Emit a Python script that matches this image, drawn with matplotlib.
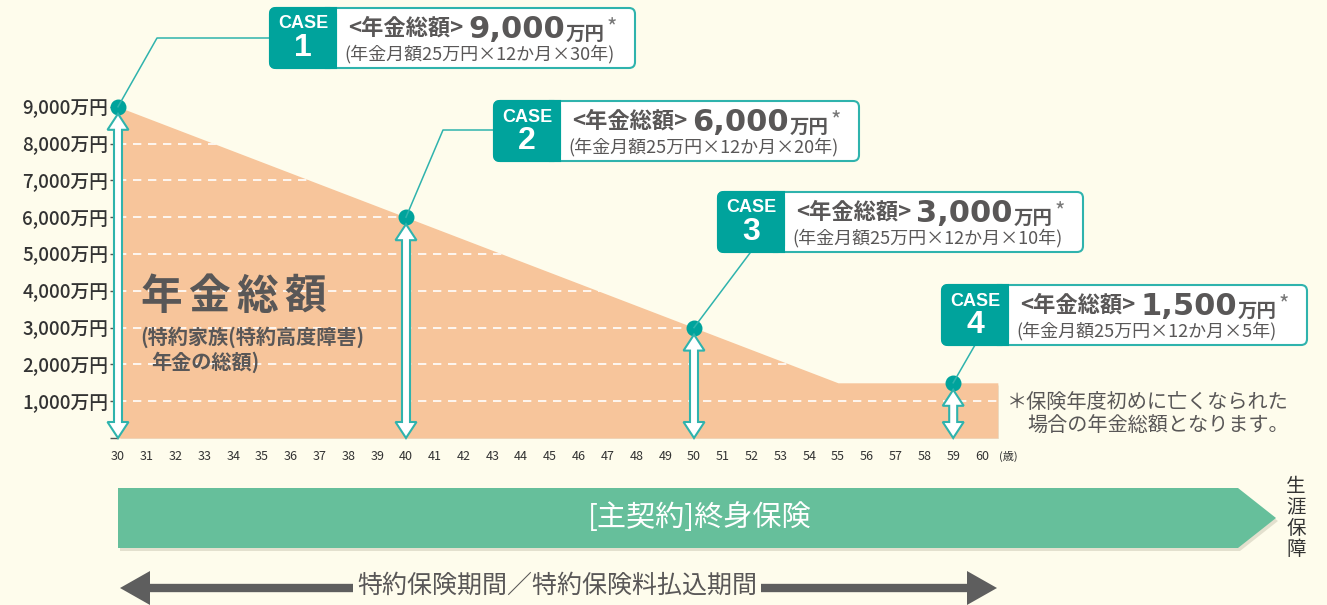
import matplotlib
matplotlib.use("Agg")
import matplotlib.pyplot as plt
from matplotlib.patches import Polygon, FancyBboxPatch, Rectangle
import numpy as np

plt.rcParams["font.family"] = ["Noto Sans CJK JP", "DejaVu Sans"]

# chart data
curve_age = [30, 55, 60.55]
curve_total = [9000, 1500, 1500]
case_no = [1, 2, 3, 4]
case_age = [30, 40, 50, 59]
case_total = [9000, 6000, 3000, 1500]
case_years = [30, 20, 10, 5]
age_ticks = list(range(30, 61))
money_ticks = list(range(0, 10000, 1000))

BG = "#FEFCEC"
ORANGE = "#F7C59B"
TEAL = "#00A39C"
TEAL_LINE = "#2FB3AD"
GREEN = "#66BF9B"
GRAY = "#595757"
DARK = "#333333"

W, H = 1327, 605
fig = plt.figure(figsize=(W / 100, H / 100), dpi=100, facecolor=BG)

# main chart axes (age vs total)
ax = fig.add_axes([118 / W, (H - 438) / H, 880 / W, 340 / H])
ax.set_facecolor("none")
ax.set_xlim(30, 30 + 880 / 28.8)
ax.set_ylim(0, 340 / 36.8 * 1000)
for s in ax.spines.values():
    s.set_visible(False)

ax.set_yticks(money_ticks)
ax.set_yticklabels([""] + [f"{v:,}万円" for v in money_ticks[1:]], fontsize=13.5,
                   color=DARK, fontweight="medium")
ax.tick_params(axis="y", length=6, width=1, color="#555555", pad=1)
ax.set_xticks(age_ticks)
ax.set_xticklabels([str(a) for a in age_ticks], fontsize=9, color=DARK)
ax.tick_params(axis="x", length=0, pad=9)

# shadow + area
ax.fill_between(np.array(curve_age) + 0.08, np.array(curve_total) - 60, -60,
                color="#d9d6c4", alpha=0.6, lw=0, zorder=1)
area = ax.fill_between(curve_age, curve_total, 0, color=ORANGE, lw=0, zorder=2)
poly_path = area.get_paths()[0]
hl = ax.hlines(money_ticks[1:-1], 30, curve_age[-1], colors="white",
               linestyles=(0, (5, 4)), lw=1.2, zorder=3)
hl.set_clip_path(poly_path, ax.transData)

ax.scatter(case_age, case_total, s=110, color=TEAL, zorder=6, clip_on=False)

# overlay in pixel coords
ov = fig.add_axes([0, 0, 1, 1], zorder=5)
ov.set_xlim(0, W)
ov.set_ylim(H, 0)
ov.axis("off")
ov.set_facecolor("none")


def to_px(x, y):
    dx, dy = ax.transData.transform((x, y))
    return dx, H - dy


# double arrows
for a, t in zip(case_age, case_total):
    cx, ty = to_px(a, t)
    _, by = to_px(a, 0)
    ty += 7
    hw, sw, hl_ = 10.5, 4, 16
    pts = [(cx, ty), (cx + hw, ty + hl_), (cx + sw, ty + hl_), (cx + sw, by - hl_),
           (cx + hw, by - hl_), (cx, by), (cx - hw, by - hl_), (cx - sw, by - hl_),
           (cx - sw, ty + hl_), (cx - hw, ty + hl_)]
    ov.add_patch(Polygon(pts, closed=True, fc="white", ec=TEAL_LINE, lw=1.5, zorder=2))

# case boxes
boxes = [(270, 8), (494, 101), (718, 192), (942, 285)]
elbows = [[(157, 38), (270, 38)], [(443, 130), (494, 130)], [(750, 253)], [(975, 345)]]
bw, bh, tw = 365, 60, 66
for n, a, t, yrs, (x0, y0), elb in zip(case_no, case_age, case_total, case_years, boxes, elbows):
    dx, dy = to_px(a, t)
    xs = [dx] + [p[0] for p in elb]
    ys = [dy] + [p[1] for p in elb]
    ov.plot(xs, ys, color=TEAL_LINE, lw=1.1, zorder=1)
    ov.add_patch(FancyBboxPatch((x0, y0), bw, bh, boxstyle="round,pad=0,rounding_size=6",
                                fc="white", ec=TEAL_LINE, lw=1.5, zorder=3))
    ov.add_patch(FancyBboxPatch((x0, y0), tw, bh, boxstyle="round,pad=0,rounding_size=6",
                                fc=TEAL, ec=TEAL, lw=1.5, zorder=3))
    ov.add_patch(Rectangle((x0 + tw - 10, y0), 10, bh, fc=TEAL, ec=TEAL, lw=1.5, zorder=3))
    ov.text(x0 + tw / 2, y0 + 16, "CASE", color="white", fontsize=13, fontweight="bold",
            family="Liberation Sans", ha="center", va="center", zorder=4)
    ov.text(x0 + tw / 2, y0 + 40, str(n), color="white", fontsize=23, fontweight="bold",
            family="Liberation Sans", ha="center", va="center", zorder=4)
    ov.text(x0 + 78, y0 + 20, "<年金総額>", color=GRAY, fontsize=16, fontweight="bold",
            ha="left", va="center", zorder=4)
    num = ov.text(x0 + 198, y0 + 30, f"{t:,}", color=GRAY, fontsize=22, fontweight="bold",
                  family="DejaVu Sans", ha="left", va="baseline", zorder=4)
    yen = ov.annotate("万円", xy=(1, 0), xycoords=num, xytext=(1, 0),
                      textcoords="offset points", color=GRAY, fontsize=14,
                      fontweight="bold", ha="left", va="bottom", zorder=4)
    ov.annotate("*", xy=(1, 1), xycoords=yen, xytext=(1, -2),
                textcoords="offset points", color="#777777", fontsize=16,
                ha="left", va="center", zorder=4)
    ov.text(x0 + 74, y0 + 46, f"(年金月額25万円×12か月×{yrs}年)", color=GRAY, fontsize=13,
            ha="left", va="center", zorder=4)

# big label
for i, ch in enumerate("年金総額"):
    ov.text(161 + i * 48, 297, ch, color=GRAY, fontsize=30, fontweight="bold",
            ha="center", va="center", zorder=3)
ov.text(140, 337, "(特約家族(特約高度障害)", color=GRAY, fontsize=14.5, fontweight="bold",
        ha="left", va="center", zorder=3)
ov.text(151, 362, "年金の総額)", color=GRAY, fontsize=14.5, fontweight="bold",
        ha="left", va="center", zorder=3)

# footnote
ov.text(1007, 402, "＊保険年度初めに亡くなられた", color=GRAY, fontsize=14.5,
        ha="left", va="center")
ov.text(1027, 426, "場合の年金総額となります。", color=GRAY, fontsize=14.5,
        ha="left", va="center")
ov.text(999, 456, "(歳)", color=DARK, fontsize=8, ha="left", va="center")

# main contract bar
bar = [(118, 488), (1238, 488), (1276, 518), (1238, 548), (118, 548)]
ov.add_patch(Polygon([(x + 2, y + 3) for x, y in bar], closed=True, fc="#d8d5c2",
                     ec="none", alpha=0.7, zorder=1))
ov.add_patch(Polygon(bar, closed=True, fc=GREEN, ec="none", zorder=2))
ov.text(700, 518, "[主契約]終身保険", color="white", fontsize=21, ha="center",
        va="center", zorder=3)
ov.text(1296, 518, "生\n涯\n保\n障", color=DARK, fontsize=14, ha="center",
        va="center", linespacing=1.0)

# rider period arrow
ov.plot([140, 980], [588, 588], color="#5E5E5E", lw=6, solid_capstyle="butt", zorder=1)
ov.add_patch(Polygon([(120, 588), (150, 571), (150, 605)], closed=True, fc="#5E5E5E",
                     ec="none", zorder=1))
ov.add_patch(Polygon([(997, 588), (967, 571), (967, 605)], closed=True, fc="#5E5E5E",
                     ec="none", zorder=1))
ov.text(557, 586, "特約保険期間／特約保険料払込期間", color=GRAY, fontsize=18,
        ha="center", va="center", zorder=2,
        bbox=dict(fc=BG, ec="none", pad=3))

fig.savefig("out.png", dpi=100, facecolor=BG)
